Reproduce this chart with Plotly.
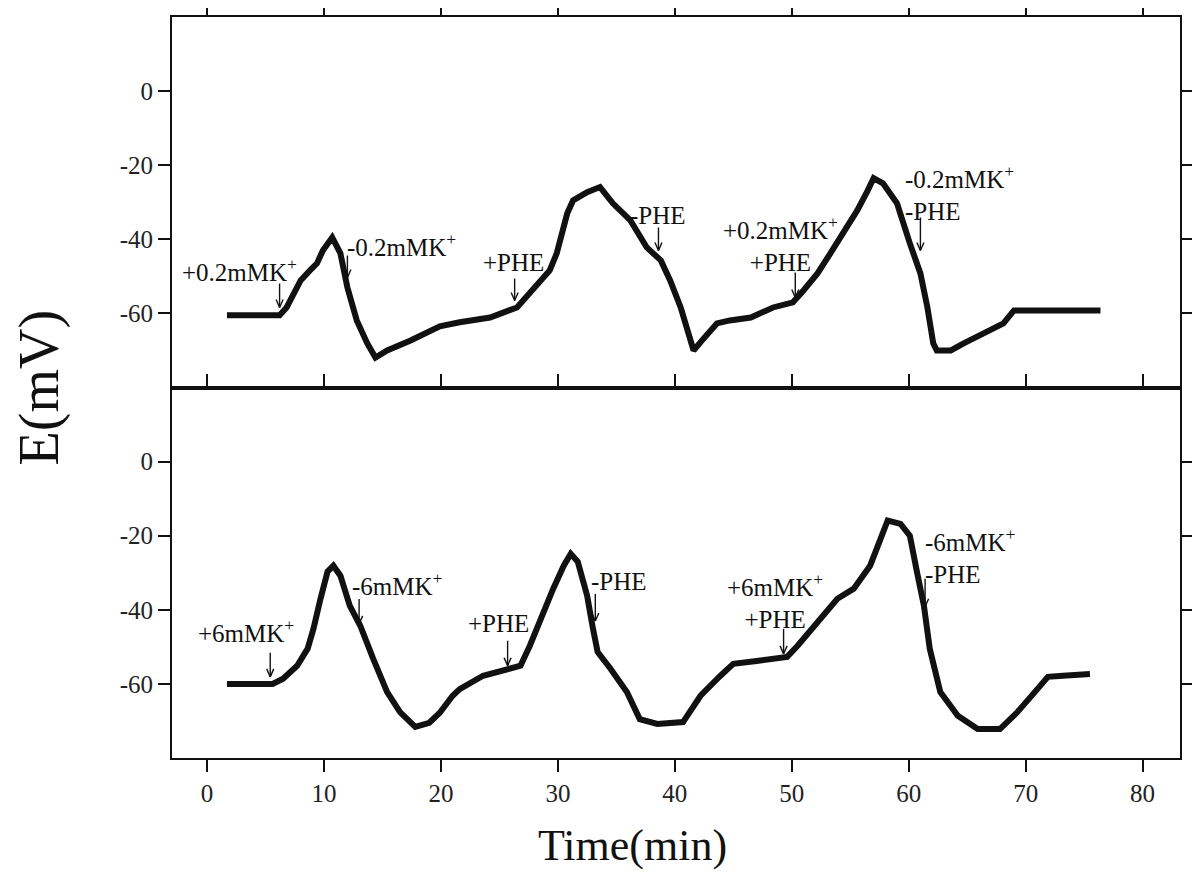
import plotly.graph_objects as go

# top trace: 0.2 mM K+ experiment
top_t = [1.7, 6.2, 6.8, 7.4, 8.0, 8.8, 9.4, 9.9, 10.7, 11.4, 12.0, 12.8, 13.7, 14.4, 15.4, 17.4,
         19.9, 21.6, 24.2, 26.5, 27.6, 28.5, 29.3, 29.9, 30.5, 30.8, 31.3, 32.5, 33.6, 34.7, 36.2,
         37.6, 38.8, 39.6, 40.5, 41.1, 41.6, 42.4, 43.6, 44.7, 46.5, 48.4, 50.1, 51.0, 52.2, 53.3,
         54.4, 55.6, 56.5, 57.0, 57.8, 59.0, 60.1, 61.0, 61.6, 62.1, 62.4, 63.6, 64.7, 66.4, 68.1,
         69.0, 71.5, 76.4]
top_e = [-60.5, -60.5, -58.4, -54.6, -51.1, -48.4, -46.5, -43.0, -39.5, -43.8, -53.0, -61.9, -68.1,
         -71.9, -70.0, -67.3, -63.5, -62.4, -61.1, -58.4, -54.6, -51.6, -48.4, -43.8, -36.8, -33.0,
         -29.5, -27.3, -25.9, -30.3, -34.9, -42.2, -45.7, -51.1, -58.4, -65.4, -70.0, -67.0, -62.7,
         -61.9, -61.1, -58.4, -57.0, -53.8, -49.2, -43.8, -38.4, -32.2, -26.8, -23.5, -24.9, -30.3,
         -41.1, -49.2, -58.4, -68.1, -70.0, -70.0, -68.1, -65.4, -62.7, -59.2, -59.2, -59.2]

# bottom trace: 6 mM K+ experiment
bot_t = [1.7, 5.6, 6.5, 7.7, 8.6, 9.1, 9.7, 10.3, 10.8, 11.4, 12.2, 13.1, 14.2, 15.4, 16.5, 17.8,
         19.0, 19.9, 21.0, 21.6, 23.6, 25.7, 26.8, 27.6, 28.5, 29.6, 30.5, 31.1, 31.7, 32.5, 33.0,
         33.4, 34.5, 35.9, 37.0, 38.5, 40.7, 42.2, 43.9, 45.0, 47.0, 49.6, 50.5, 52.2, 53.9, 55.3,
         56.7, 57.6, 58.2, 59.3, 60.1, 60.7, 61.3, 61.8, 62.7, 64.2, 65.9, 67.8, 69.3, 71.0, 71.9,
         73.2, 75.5]
bot_e = [-60.0, -60.0, -58.6, -55.1, -50.5, -45.1, -37.0, -29.7, -28.1, -30.8, -38.9, -44.3, -53.2,
         -62.2, -67.6, -71.6, -70.5, -67.8, -63.2, -61.4, -57.8, -55.9, -55.1, -49.7, -42.4, -34.3,
         -28.1, -24.9, -27.0, -36.2, -45.1, -51.4, -55.9, -62.2, -69.5, -70.8, -70.3, -63.2, -57.8,
         -54.6, -53.8, -52.7, -49.7, -43.2, -37.0, -34.3, -28.1, -20.8, -15.9, -16.8, -20.0, -29.7,
         -38.9, -50.5, -62.2, -68.6, -72.2, -72.2, -67.6, -61.4, -58.1, -57.8, -57.3]

x_ticks = [0, 10, 20, 30, 40, 50, 60, 70, 80]
y_ticks = [0, -20, -40, -60]
y_ticktext = ["0", "-20", "-40", "-60"]

# labels: (text, x, y, anchor)
top_labels = [("+0.2mMK<sup>+</sup>", 2.8, -48.4, "center"),
              ("-0.2mMK<sup>+</sup>", 11.8, -41.6, "left"),
              ("+PHE", 26.2, -46.2, "center"),
              ("-PHE", 38.6, -33.5, "center"),
              ("+0.2mMK<sup>+</sup><br>+PHE", 49.0, -41.4, "center"),
              ("-0.2mMK<sup>+</sup><br>-PHE", 59.5, -27.6, "left")]
# arrows: (x, tip y, length px)
top_arrows = [(6.2, -58.4, 24), (12.0, -50.3, 22), (26.3, -56.5, 22),
              (38.6, -43.0, 23), (50.3, -55.7, 25), (61.0, -43.0, 33)]

bot_labels = [("+6mMK<sup>+</sup>", 3.3, -45.7, "center"),
              ("-6mMK<sup>+</sup>", 16.3, -33.0, "center"),
              ("+PHE", 24.9, -43.8, "center"),
              ("-PHE", 35.2, -32.4, "center"),
              ("+6mMK<sup>+</sup><br>+PHE", 48.6, -37.6, "center"),
              ("-6mMK<sup>+</sup><br>-PHE", 61.25, -25.4, "left")]
bot_arrows = [(5.4, -58.1, 24), (13.0, -43.8, 25), (25.7, -55.1, 25),
              (33.2, -43.0, 27), (49.3, -51.9, 25), (61.4, -39.2, 28)]

FONT = "Liberation Serif, Times New Roman, serif"
INK = "#111111"

fig = go.Figure()
fig.add_trace(go.Scatter(x=top_t, y=top_e, mode="lines", xaxis="x", yaxis="y",
                         line=dict(color=INK, width=6)))
fig.add_trace(go.Scatter(x=bot_t, y=bot_e, mode="lines", xaxis="x2", yaxis="y2",
                         line=dict(color=INK, width=6)))

xrange = [-3.0, 83.2]
yrange = [-80, 20]
common = dict(showgrid=False, zeroline=False, showline=True, linecolor=INK, linewidth=2,
              ticks="outside", ticklen=12, tickwidth=2, tickcolor=INK, automargin=False,
              tickfont=dict(family=FONT, size=25, color="#222222"))

# page body adds an 8px margin, so the figure is a little smaller than the window
fig.update_layout(
    width=1192, height=867,
    plot_bgcolor="white", paper_bgcolor="white",
    showlegend=False,
    margin=dict(l=164, r=20, t=9, b=117),
    xaxis=dict(domain=[0, 1], anchor="y", range=xrange, tickvals=x_ticks, side="top",
               mirror=True, showticklabels=False, **common),
    yaxis=dict(domain=[0.5, 1], anchor="x", range=yrange, tickvals=y_ticks,
               ticktext=y_ticktext, mirror="ticks", **common),
    xaxis2=dict(domain=[0, 1], anchor="y2", range=xrange, tickvals=x_ticks, mirror="ticks",
                **common),
    yaxis2=dict(domain=[0, 0.5], anchor="x2", range=yrange, tickvals=y_ticks,
                ticktext=y_ticktext, mirror="ticks", **common),
)

annotations = [dict(text="E(mV)", xref="paper", yref="paper", x=-0.131, y=0.5,
                    xanchor="center", yanchor="middle", textangle=-90, showarrow=False,
                    font=dict(family=FONT, size=56, color=INK)),
               dict(text="Time(min)", xref="paper", yref="paper", x=0.457, y=-0.118,
                    xanchor="center", yanchor="middle", showarrow=False,
                    font=dict(family=FONT, size=44, color=INK))]

shapes = []
for xr, yr, labels, arrows in [("x", "y", top_labels, top_arrows),
                               ("x2", "y2", bot_labels, bot_arrows)]:
    for text, x, y, anchor in labels:
        annotations.append(dict(text=text, x=x, y=y, xref=xr, yref=yr, showarrow=False,
                                xanchor=anchor, align=anchor,
                                font=dict(family=FONT, size=25, color=INK)))
    for x, y, length in arrows:
        # shaft and head, sized in pixels around the tip
        for x0, y0, x1, y1 in [(0, 0, 0, length), (0, 0, -3.5, 8), (0, 0, 3.5, 8)]:
            shapes.append(dict(type="line", xref=xr, yref=yr,
                               xsizemode="pixel", ysizemode="pixel",
                               xanchor=x, yanchor=y, x0=x0, y0=y0, x1=x1, y1=y1,
                               line=dict(color=INK, width=1.4)))

fig.update_layout(annotations=annotations, shapes=shapes)

fig.write_html("out.html")
